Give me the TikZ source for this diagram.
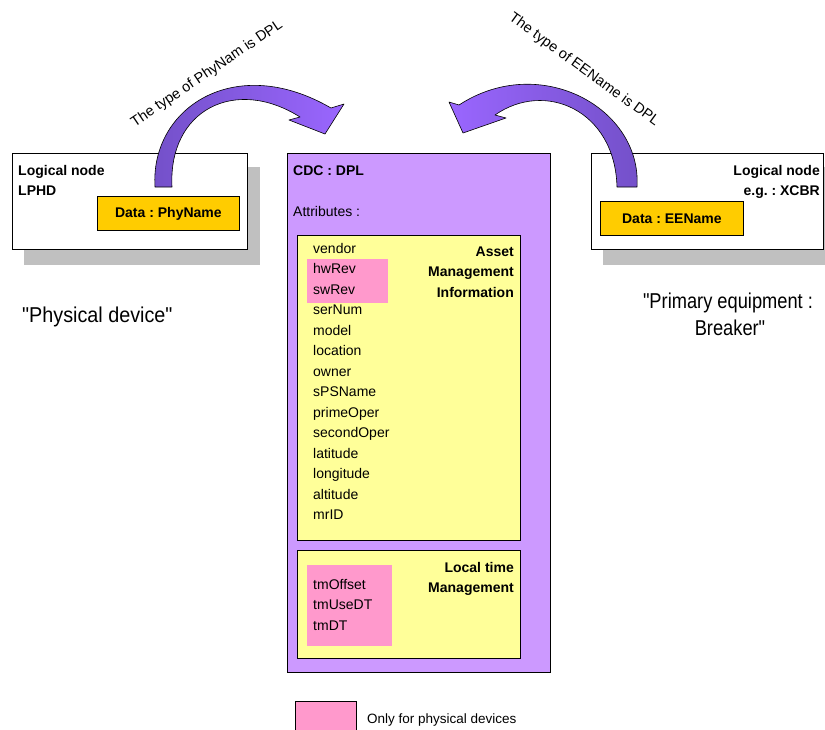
\documentclass[tikz,border=0pt]{standalone}
\usepackage{fontspec}
\setmainfont{Liberation Sans}
\definecolor{cdcfill}{HTML}{CC99FF}
\definecolor{yellowfill}{HTML}{FFFF99}
\definecolor{pinkfill}{HTML}{FF99CC}
\definecolor{goldfill}{HTML}{FFCC00}
\definecolor{shadowgray}{HTML}{C0C0C0}
\definecolor{arrdark}{HTML}{7350C8}
\definecolor{arrlight}{HTML}{9A66FF}
\frenchspacing
\begin{document}
\begin{tikzpicture}[x=1pt,y=-1pt,
  rectbox/.style={draw=black, line width=0.8pt, anchor=north west, inner sep=0pt},
  pinkbox/.style={fill=pinkfill, anchor=north west, inner sep=0pt},
  itm/.style={anchor=base west, inner sep=0pt, font=\fontsize{14}{16}\selectfont},
  bldl/.style={anchor=base west, inner sep=0pt, font=\bfseries\fontsize{14}{16}\selectfont},
  bldr/.style={anchor=base east, inner sep=0pt, font=\bfseries\fontsize{14}{16}\selectfont},
  bigtxt/.style={inner sep=0pt, font=\fontsize{21.5}{28}\selectfont, transform shape},
  arrowshape/.style={draw=black, line width=0.6pt, line join=round},
  rotlabel/.style={inner sep=0pt, font=\fontsize{14.5}{16}\selectfont}]
\useasboundingbox (0,0) rectangle (825,729);
% shadows
\fill[shadowgray] (24,167) rectangle (260,265);
\fill[shadowgray] (603,167) rectangle (830,265);
% logical node boxes
\node[rectbox, fill=white, minimum width=235pt, minimum height=96pt] (lnl) at (12,153) {};
\node[rectbox, fill=white, minimum width=232pt, minimum height=96pt] (lnr) at (591,153) {};
\node[bldl] (lnlt1) at (18,175) {Logical node};
\node[bldl] (lnlt2) at (18,195) {LPHD};
\node[bldr] (lnrt1) at (820,175) {Logical node};
\node[bldr] (lnrt2) at (820,195) {e.g. : XCBR};
\node[rectbox, fill=goldfill, minimum width=142pt, minimum height=34pt] (phy) at (97,196) {};
\node[inner sep=0pt, font=\bfseries\fontsize{14}{16}\selectfont] (phyt) at (phy.center) {Data : PhyName};
\node[rectbox, fill=goldfill, minimum width=143pt, minimum height=34pt] (ee) at (600,201) {};
\node[inner sep=0pt, font=\bfseries\fontsize{14}{16}\selectfont] (eet) at (ee.center) {Data : EEName};
% CDC box
\node[rectbox, fill=cdcfill, minimum width=263pt, minimum height=519pt] (cdc) at (287,153) {};
\node[bldl] (cdct) at (293,175) {CDC : DPL};
\node[itm] (attr) at (293,216) {Attributes :};
\node[rectbox, fill=yellowfill, minimum width=223pt, minimum height=305pt] (asset) at (297,235) {};
\node[rectbox, fill=yellowfill, minimum width=223pt, minimum height=108pt] (local) at (297,550) {};
\node[pinkbox, minimum width=81pt, minimum height=44pt] (pk1) at (307,259) {};
\node[pinkbox, minimum width=85pt, minimum height=81pt] (pk2) at (307,565) {};
\foreach \t [count=\i from 0] in {vendor,hwRev,swRev,serNum,model,location,owner,sPSName,primeOper,secondOper,latitude,longitude,altitude,mrID}{
  \node[itm] (it\i) at (313,253+20.5*\i) {\t};
}
\node[bldr] (as1) at (514,256) {Asset};
\node[bldr] (as2) at (514,276.5) {Management};
\node[bldr] (as3) at (514,297) {Information};
\node[itm] (tm1) at (313,589) {tmOffset};
\node[itm] (tm2) at (313,609.5) {tmUseDT};
\node[itm] (tm3) at (313,630) {tmDT};
\node[bldr] (lt1) at (514,572) {Local time};
\node[bldr] (lt2) at (514,592.5) {Management};
% legend
\node[rectbox, fill=pinkfill, minimum width=61pt, minimum height=30pt] (leg) at (295,701) {};
\node[anchor=base west, inner sep=0pt, font=\fontsize{13.5}{16}\selectfont] (legt) at (367,723) {Only for physical devices};
% big labels
\node[bigtxt, anchor=base west, xscale=0.92] (pd) at (22,322) {\textquotedbl Physical device\textquotedbl};
\node[bigtxt, anchor=base, xscale=0.85] (pe1) at (728,308) {\textquotedbl Primary equipment :};
\node[bigtxt, anchor=base, xscale=0.85] (pe2) at (730,335) {Breaker\textquotedbl};
% curved arrows
\path[arrowshape, left color=arrdark, right color=arrlight]
  (155,187) .. controls (150,108) and (235,52) .. (331,108) -- (344,104) -- (325,134) -- (289,120) -- (300,117)
  .. controls (235,76) and (168,110) .. (172,187) -- cycle;
\path[arrowshape, left color=arrlight, right color=arrdark]
  (637,187) .. controls (642,108) and (540,52) .. (459,105) -- (449,102) -- (463,133) -- (506,118) -- (495,115)
  .. controls (545,80) and (615,110) .. (617,187) -- cycle;
\node[rotlabel, rotate=34] (lab1) at (207,74) {The type of PhyNam is DPL};
\node[rotlabel, rotate=-36] (lab2) at (584,70) {The type of EEName is DPL};
\end{tikzpicture}
\end{document}
